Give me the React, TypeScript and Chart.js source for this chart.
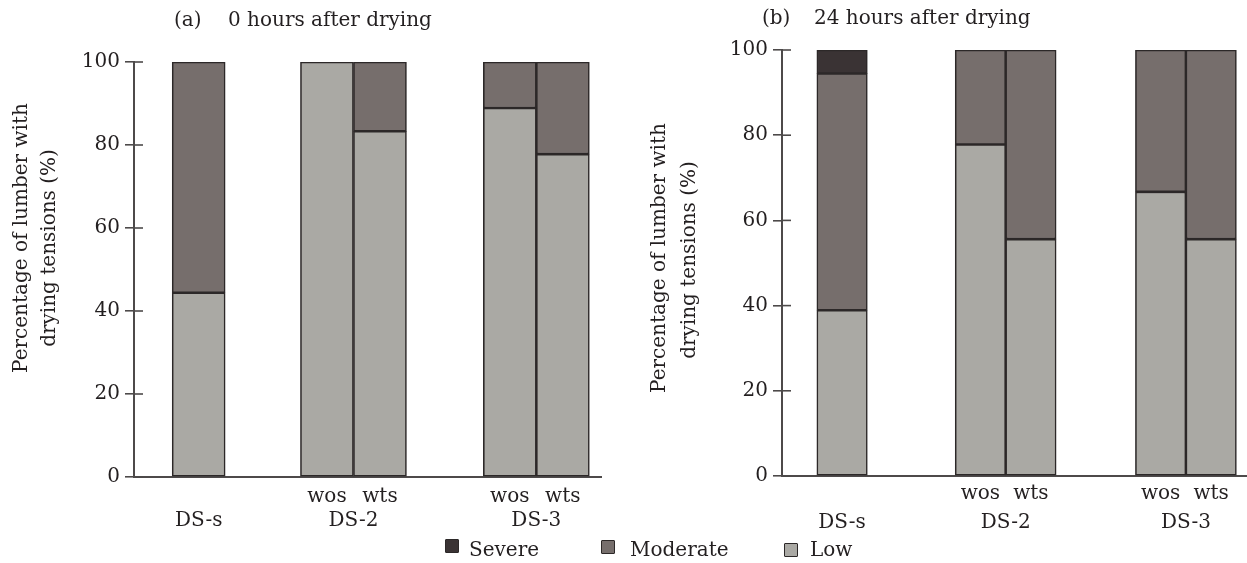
import React, { useEffect, useRef } from "react";
import { Chart, registerables } from "chart.js";

Chart.register(...registerables);

// ---------- data ----------
const seriesNames = ["Severe", "Moderate", "Low"];
const barLabels = ["", "wos", "wts", "wos", "wts"];
const groupLabels = ["DS-s", "DS-2", "DS-3"];
const groupMembers = [[0], [1, 2], [3, 4]];
const yTicks = [0, 20, 40, 60, 80, 100];
const yTitle = ["Percentage of lumber with", "drying tensions (%)"];

// panel (a): 0 hours after drying
const titleA = ["(a)", "0 hours after drying"];
const slotsA = [1.22, 3.64, 4.64, 7.09, 8.09];
const lowA = [44.4, 100, 83.3, 88.9, 77.8];
const moderateA = [55.6, 0, 16.7, 11.1, 22.2];
const severeA = [0, 0, 0, 0, 0];

// panel (b): 24 hours after drying
const titleB = ["(b)", "24 hours after drying"];
const slotsB = [1.19, 3.93, 4.93, 7.5, 8.5];
const lowB = [38.9, 77.8, 55.6, 66.7, 55.6];
const moderateB = [55.6, 22.2, 44.4, 33.3, 44.4];
const severeB = [5.5, 0, 0, 0, 0];

// ---------- styles ----------
const FONT = "'DejaVu Serif', serif";
const FS = 20;
const TEXT = "#231f20";
const AXIS = "#4d4a4a";
const BORDER = "#2c2828";
const COLORS: Record<string, string> = {
  Severe: "#3a3334",
  Moderate: "#766e6c",
  Low: "#aaa9a4",
};

type Panel = {
  title: string[];
  slots: number[];
  low: number[];
  moderate: number[];
  severe: number[];
  xMax: number;
  axisWidth: number;
  padding: { top: number; bottom: number; left: number; right: number };
  titleX: number[];
  titleY: number;
  yTitleX: number[];
  yTitleY: number[];
  rows: number[];
  width: number;
  left: number;
};

const panelA: Panel = {
  title: titleA,
  slots: slotsA,
  low: lowA,
  moderate: moderateA,
  severe: severeA,
  xMax: 8.81,
  axisWidth: 134,
  padding: { top: 62, bottom: 86, left: 0, right: 19 },
  titleX: [174, 228],
  titleY: 21,
  yTitleX: [22, 50],
  yTitleY: [238, 248],
  rows: [20, 44],
  width: 620,
  left: 0,
};

const panelB: Panel = {
  title: titleB,
  slots: slotsB,
  low: lowB,
  moderate: moderateB,
  severe: severeB,
  xMax: 9.21,
  axisWidth: 162,
  padding: { top: 50, bottom: 87, left: 0, right: 0 },
  titleX: [142, 194],
  titleY: 19,
  yTitleX: [40, 70],
  yTitleY: [258, 260],
  rows: [18, 47],
  width: 627,
  left: 620,
};

function makeDataset(label: string, vals: number[], slots: number[]) {
  return {
    label,
    data: vals.map((v, i) => ({ x: slots[i], y: v === 0 ? null : v })),
    backgroundColor: COLORS[label],
    borderColor: BORDER,
    borderWidth: 1.6,
    borderSkipped: false,
    categoryPercentage: 1,
    barPercentage: 1,
    stack: "s",
  };
}

function makeTextPlugin(p: Panel) {
  return {
    id: "panelText",
    afterDraw(chart: any) {
      const ctx = chart.ctx as CanvasRenderingContext2D;
      const area = chart.chartArea;
      const xs = chart.scales.x;
      const ys = chart.scales.y;
      ctx.save();
      // tick marks crossing into the plot
      ctx.strokeStyle = AXIS;
      ctx.lineWidth = 1.6;
      ys.ticks.forEach((t: any) => {
        const py = ys.getPixelForValue(t.value);
        ctx.beginPath();
        ctx.moveTo(area.left, py);
        ctx.lineTo(area.left + 9, py);
        ctx.stroke();
      });
      ctx.fillStyle = TEXT;
      ctx.font = `${FS}px ${FONT}`;
      ctx.textBaseline = "middle";
      // panel title
      ctx.textAlign = "left";
      p.title.forEach((s, i) => ctx.fillText(s, p.titleX[i], p.titleY));
      // y axis title
      ctx.textAlign = "center";
      yTitle.forEach((s, i) => {
        ctx.save();
        ctx.translate(p.yTitleX[i], p.yTitleY[i]);
        ctx.rotate(-Math.PI / 2);
        ctx.fillText(s, 0, 0);
        ctx.restore();
      });
      // category labels
      p.slots.forEach((v, i) => {
        if (barLabels[i]) {
          ctx.fillText(barLabels[i], xs.getPixelForValue(v), area.bottom + p.rows[0]);
        }
      });
      groupMembers.forEach((m, g) => {
        const px =
          m.reduce((s, i) => s + xs.getPixelForValue(p.slots[i]), 0) / m.length;
        ctx.fillText(groupLabels[g], px, area.bottom + p.rows[1]);
      });
      ctx.restore();
    },
  };
}

function PanelChart({ p }: { p: Panel }) {
  const ref = useRef<HTMLCanvasElement | null>(null);
  useEffect(() => {
    if (!ref.current) return;
    const chart = new Chart(ref.current, {
      type: "bar",
      data: {
        datasets: [
          makeDataset("Low", p.low, p.slots),
          makeDataset("Moderate", p.moderate, p.slots),
          makeDataset("Severe", p.severe, p.slots),
        ] as any,
      },
      options: {
        animation: false,
        responsive: false,
        devicePixelRatio: 1,
        layout: { padding: p.padding },
        plugins: {
          legend: { display: false },
          title: { display: false },
          tooltip: { enabled: false },
        },
        scales: {
          x: {
            type: "linear",
            min: 0,
            max: p.xMax,
            stacked: true,
            offset: false,
            afterBuildTicks: (s: any) => {
              s.ticks = [];
            },
            ticks: { display: false },
            grid: { display: false, drawTicks: false },
            border: { display: true, color: AXIS, width: 2 },
            afterFit: (s: any) => {
              s.height = 0;
            },
          },
          y: {
            type: "linear",
            min: 0,
            max: 100,
            stacked: true,
            afterBuildTicks: (s: any) => {
              s.ticks = yTicks.map((v) => ({ value: v }));
            },
            ticks: {
              padding: 5,
              color: TEXT,
              font: { family: FONT, size: FS },
            },
            grid: {
              drawOnChartArea: false,
              drawTicks: true,
              tickLength: 9,
              color: AXIS,
              lineWidth: 1.6,
            },
            border: { display: true, color: AXIS, width: 2 },
            afterFit: (s: any) => {
              s.width = p.axisWidth;
            },
          },
        },
      } as any,
      plugins: [makeTextPlugin(p)],
    });
    return () => chart.destroy();
  }, [p]);
  return (
    <canvas
      ref={ref}
      width={p.width}
      height={563}
      style={{ position: "absolute", left: p.left, top: 0, width: p.width, height: 563 }}
    />
  );
}

export default function App() {
  const legendLayout: Record<string, { box: [number, number]; text: number }> = {
    Severe: { box: [445, 539], text: 469 },
    Moderate: { box: [601, 540], text: 630 },
    Low: { box: [784, 543], text: 810 },
  };
  return (
    <div
      style={{
        position: "fixed",
        left: 0,
        top: 0,
        width: 1247,
        height: 563,
        background: "#fff",
        overflow: "hidden",
      }}
    >
      <PanelChart p={panelA} />
      <PanelChart p={panelB} />
      {seriesNames.map((name) => {
        const l = legendLayout[name];
        return (
          <React.Fragment key={name}>
            <div
              style={{
                position: "absolute",
                left: l.box[0],
                top: l.box[1],
                width: 12,
                height: 12,
                background: COLORS[name],
                border: `1.5px solid ${BORDER}`,
                borderRadius: 1,
              }}
            />
            <span
              style={{
                position: "absolute",
                left: l.text,
                top: 537,
                fontFamily: FONT,
                fontSize: FS,
                lineHeight: "24px",
                color: TEXT,
                whiteSpace: "nowrap",
              }}
            >
              {name}
            </span>
          </React.Fragment>
        );
      })}
    </div>
  );
}
